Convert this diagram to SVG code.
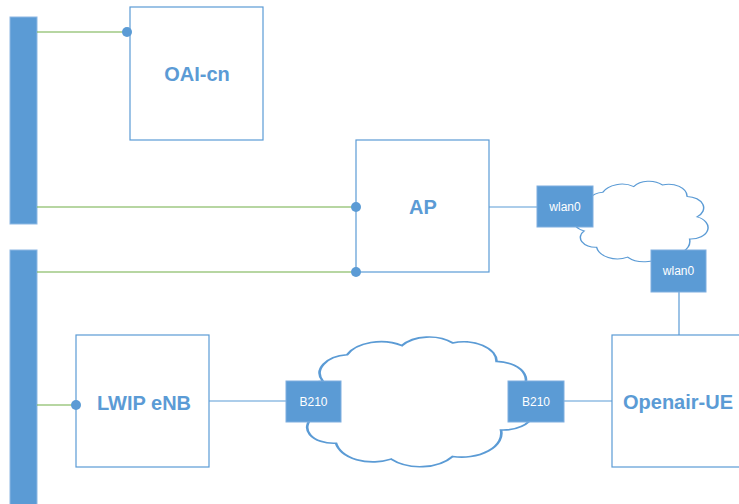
<svg xmlns="http://www.w3.org/2000/svg" width="739" height="504" viewBox="0 0 739 504">
<style>
.bar{fill:#5B9BD5;stroke:#8DB8E3;stroke-width:1}
.box{fill:#fff;stroke:#5B9BD5;stroke-width:1.2}
.port{fill:#5B9BD5;stroke:#7FAEDF;stroke-width:1}
.cloud{fill:#fff;stroke:#5B9BD5;stroke-width:1.2}
.big{font-family:"Liberation Sans",Arial,sans-serif;font-weight:bold;font-size:20px;fill:#5B9BD5;text-anchor:middle;dominant-baseline:central}
.small{font-family:"Liberation Sans",Arial,sans-serif;font-size:12px;fill:#fff;text-anchor:middle;dominant-baseline:central}
.g{stroke:#70AD47;stroke-width:1.2;fill:none}
.b{stroke:#5B9BD5;stroke-width:1.2;fill:none}
.dot{fill:#5B9BD5}
</style>
<defs>
<path id="cloudShape" d="M9,35 A14,14 0 0 1 20,15 A17,17 0 0 1 45,8 A15,15 0 0 1 68,6 A15,15 0 0 1 88,20 A14,14 0 0 1 96,45 A14,14 0 0 1 90,72 A18,18 0 0 1 68,92 A18,18 0 0 1 40,94 A17,17 0 0 1 15,82 A12,12 0 0 1 5,62 A14,14 0 0 1 9,35 Z"/>
</defs>
<g id="bus1"><rect class="bar" x="10" y="17" width="27" height="207"/></g>
<g id="bus2"><rect class="bar" x="10" y="250" width="27" height="260"/></g>
<g id="cloud-wifi"><use href="#cloudShape" class="cloud" vector-effect="non-scaling-stroke" transform="translate(578,180) scale(1.24,0.82)"/></g>
<g id="cloud-lte"><use href="#cloudShape" class="cloud" vector-effect="non-scaling-stroke" transform="translate(303,335) scale(2.2,1.32)"/></g>
<g id="connectors">
<line class="g" x1="37" y1="32" x2="127" y2="32"/>
<line class="g" x1="37" y1="207" x2="356" y2="207"/>
<line class="g" x1="37" y1="272" x2="356" y2="272"/>
<line class="g" x1="37" y1="405" x2="76" y2="405"/>
<line class="b" x1="489" y1="207" x2="537" y2="207"/>
<line class="b" x1="209" y1="401" x2="286" y2="401"/>
<line class="b" x1="564" y1="401" x2="612" y2="401"/>
<line class="b" x1="679" y1="292" x2="679" y2="335"/>
</g>
<g id="oai-cn">
<rect class="box" x="130" y="7" width="133" height="133"/>
<circle class="dot" cx="127" cy="32" r="5"/>
<text class="big" x="197" y="74">OAI-cn</text>
</g>
<g id="ap">
<rect class="box" x="356" y="140" width="133" height="132"/>
<circle class="dot" cx="356" cy="207" r="5"/>
<circle class="dot" cx="356" cy="272" r="5"/>
<text class="big" x="423" y="207">AP</text>
</g>
<g id="wlan0-ap">
<rect class="port" x="537" y="186" width="56" height="41"/>
<text class="small" x="565" y="207">wlan0</text>
</g>
<g id="wlan0-ue">
<rect class="port" x="651" y="250" width="55" height="42"/>
<text class="small" x="678.5" y="271">wlan0</text>
</g>
<g id="lwip-enb">
<rect class="box" x="76" y="335" width="133" height="132"/>
<circle class="dot" cx="76" cy="405" r="5"/>
<text class="big" x="144" y="403">LWIP eNB</text>
</g>
<g id="b210-enb">
<rect class="port" x="286" y="381" width="55" height="41"/>
<text class="small" x="313.5" y="402">B210</text>
</g>
<g id="b210-ue">
<rect class="port" x="508" y="381" width="56" height="41"/>
<text class="small" x="536" y="402">B210</text>
</g>
<g id="openair-ue">
<rect class="box" x="612" y="335" width="134" height="132"/>
<text class="big" x="678" y="402">Openair-UE</text>
</g>
</svg>
